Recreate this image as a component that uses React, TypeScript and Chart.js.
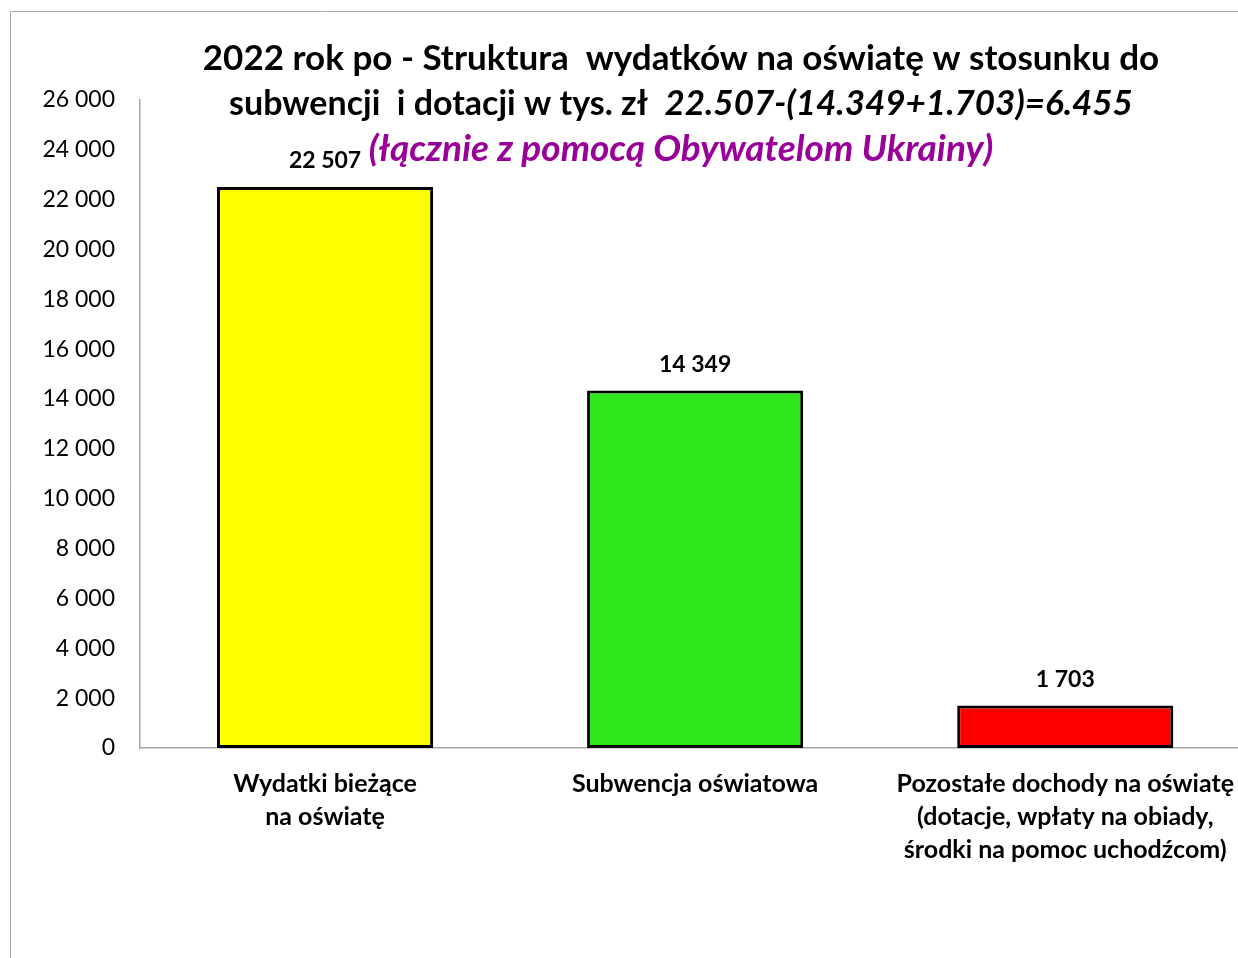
import React, { useEffect, useRef } from "react";
import { Chart, registerables } from "chart.js";

Chart.register(...registerables);

const categories: string[][] = [
  ["Wydatki bieżące", "na oświatę"],
  ["Subwencja oświatowa"],
  ["Pozostałe dochody na oświatę", "(dotacje, wpłaty na obiady,", "środki na pomoc uchodźcom)"],
];
const values: number[] = [22507, 14349, 1703];
const valueLabels: string[] = ["22 507", "14 349", "1 703"];
const barColors: string[] = ["#ffff00", "#2ee619", "#ff0000"];
const yTickLabels: string[] = [
  "0", "2 000", "4 000", "6 000", "8 000", "10 000", "12 000",
  "14 000", "16 000", "18 000", "20 000", "22 000", "24 000", "26 000",
];
const titleLine1 = "2022 rok po - Struktura  wydatków na oświatę w stosunku do";
const titleLine2a = "subwencji  i dotacji w tys. zł  ";
const titleLine2b = "22.507-(14.349+1.703)=6.455";
const titleLine3 = "(łącznie z pomocą Obywatelom Ukrainy)";

const FONT = "Lato, 'Open Sans', sans-serif";

const decorPlugin = {
  id: "decor",
  beforeDraw(chart: any) {
    const ctx = chart.ctx;
    ctx.save();
    ctx.strokeStyle = "#a6a6a6";
    ctx.lineWidth = 1;
    ctx.beginPath();
    ctx.moveTo(10.5, 960);
    ctx.lineTo(10.5, 11.5);
    ctx.lineTo(1260, 11.5);
    ctx.stroke();
    ctx.restore();
  },
  afterDraw(chart: any) {
    const ctx = chart.ctx;
    const cx = 681;
    ctx.save();
    ctx.textBaseline = "middle";
    ctx.fillStyle = "#000";
    ctx.textAlign = "center";
    ctx.font = `bold 35px ${FONT}`;
    ctx.fillText(titleLine1, cx, 59);
    ctx.textAlign = "left";
    const fA = `bold 34px ${FONT}`;
    const fB = `italic bold 35px ${FONT}`;
    ctx.font = fA;
    const wA = ctx.measureText(titleLine2a).width;
    ctx.font = fB;
    const wB = ctx.measureText(titleLine2b).width;
    const x = cx - (wA + wB) / 2;
    ctx.font = fA;
    ctx.fillText(titleLine2a, x, 104);
    ctx.font = fB;
    ctx.fillText(titleLine2b, x + wA, 104);
    ctx.textAlign = "center";
    ctx.fillStyle = "#990099";
    ctx.font = `italic bold 37px ${FONT}`;
    ctx.fillText(titleLine3, cx, 149);
    ctx.restore();
  },
  afterDatasetsDraw(chart: any) {
    const ctx = chart.ctx;
    const meta = chart.getDatasetMeta(0);
    ctx.save();
    ctx.font = `bold 23px ${FONT}`;
    ctx.fillStyle = "#000";
    ctx.textAlign = "center";
    ctx.textBaseline = "middle";
    meta.data.forEach((bar: any, i: number) => {
      ctx.fillText(valueLabels[i], bar.x, bar.y - 26);
    });
    ctx.restore();
  },
};

export default function App() {
  const ref = useRef<HTMLCanvasElement>(null);
  useEffect(() => {
    if (!ref.current) return;
    const chart = new Chart(ref.current, {
      type: "bar",
      data: {
        labels: categories,
        datasets: [
          {
            data: values,
            backgroundColor: barColors,
            borderColor: "#000",
            borderWidth: 3,
            borderSkipped: false,
            barPercentage: 0.584,
            categoryPercentage: 1,
          },
        ],
      },
      options: {
        responsive: false,
        animation: false,
        layout: { padding: { top: 100, left: 0, right: 0, bottom: 0 } },
        plugins: { legend: { display: false }, title: { display: false }, tooltip: { enabled: false } },
        scales: {
          x: {
            grid: { display: false, drawTicks: false },
            border: { display: true, color: "#a6a6a6", width: 1.5 },
            ticks: {
              color: "#000",
              font: { family: FONT, size: 25, weight: "bold", lineHeight: 1.32 },
              padding: 19,
              maxRotation: 0,
              autoSkip: false,
            },
            afterFit: (s: any) => { s.height = 210; },
          },
          y: {
            min: 0,
            max: 26000,
            grid: { display: false, drawTicks: false },
            border: { display: true, color: "#a6a6a6", width: 1.5 },
            ticks: {
              stepSize: 2000,
              color: "#000",
              font: { family: FONT, size: 23 },
              padding: 25,
              callback: (_v: any, i: number) => yTickLabels[i],
            },
            afterFit: (s: any) => { s.width = 140; },
          },
        },
      },
      plugins: [decorPlugin],
    });
    return () => chart.destroy();
  }, []);
  return (
    <div style={{ position: "absolute", left: 0, top: 0, width: 1238, height: 958, overflow: "hidden", background: "#fff" }}>
      <canvas ref={ref} width={1253} height={958} style={{ display: "block" }} />
    </div>
  );
}
